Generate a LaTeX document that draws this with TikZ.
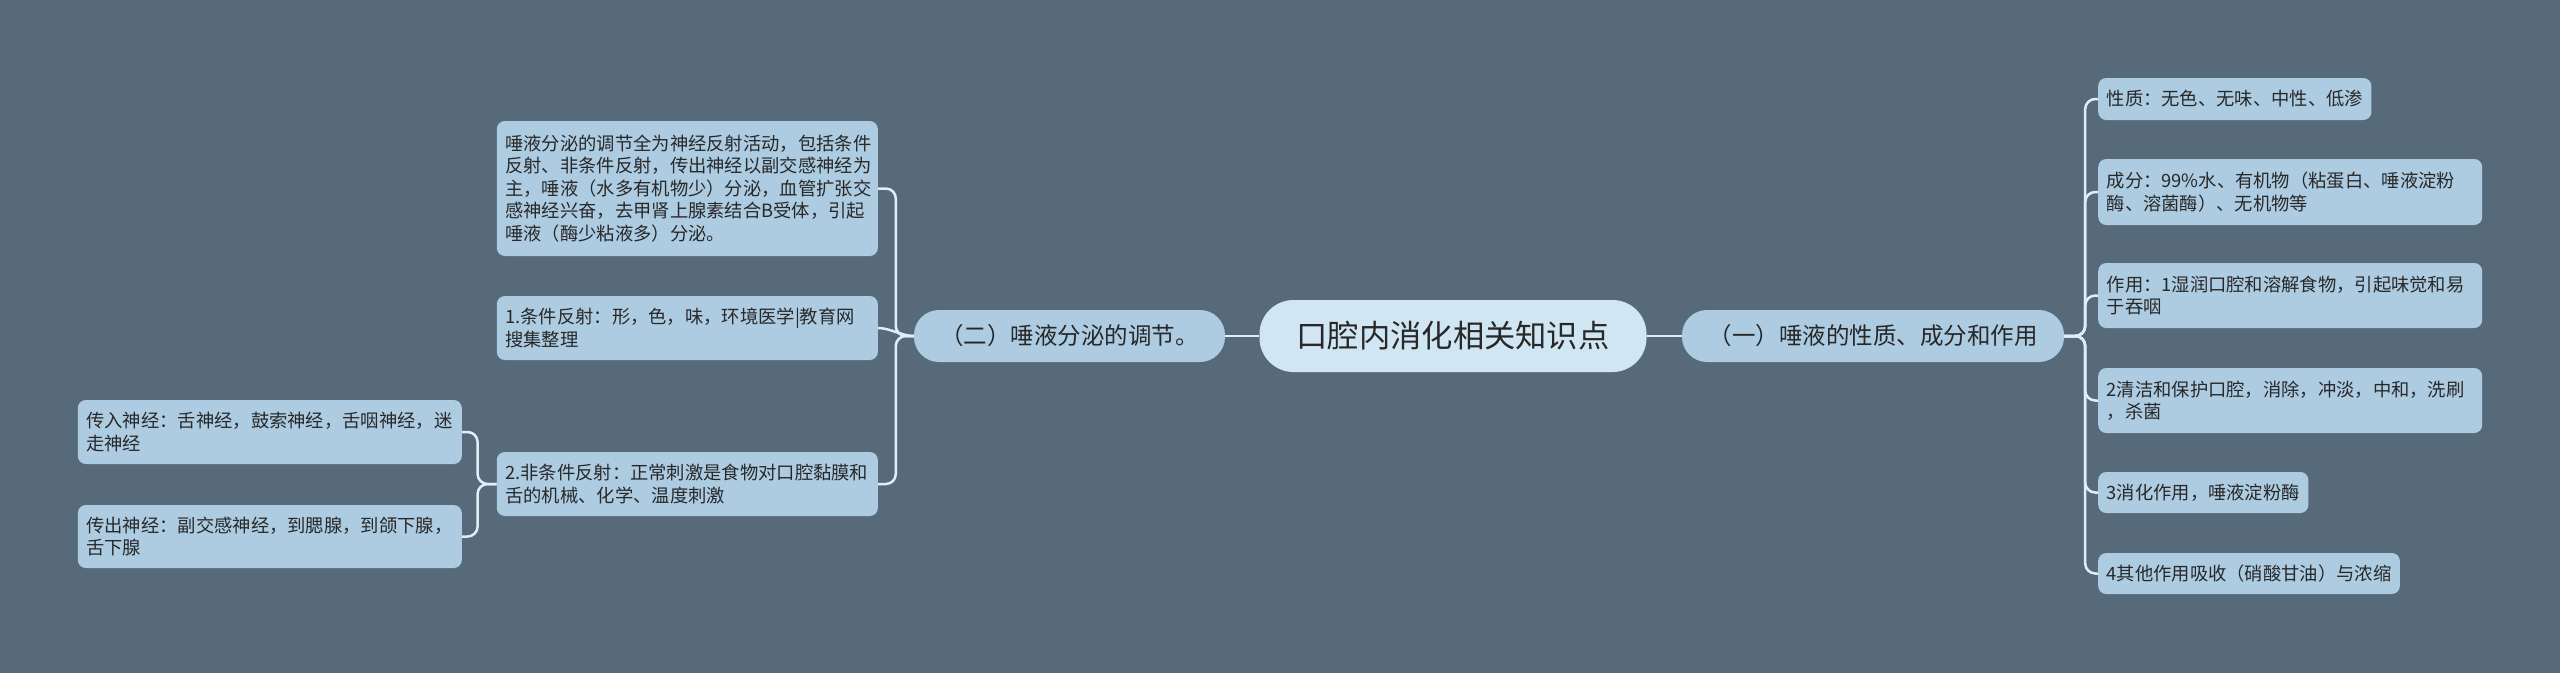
\documentclass[tikz,border=0pt]{standalone}
\usepackage{fontspec}
\setmainfont{Noto Sans CJK SC}
\definecolor{bgc}{RGB}{86,106,121}
\definecolor{leafc}{RGB}{173,204,226}
\definecolor{rootc}{RGB}{208,230,243}
\definecolor{linec}{RGB}{224,239,247}
\definecolor{textc}{RGB}{40,40,40}
\begin{document}
\begin{tikzpicture}[x=1pt,y=-1pt,
  conn/.style={draw=linec, line width=2.5pt, rounded corners=10pt},
  leaf/.style={fill=leafc, rounded corners=8pt, text=textc, font=\fontsize{18.3}{22.5}\selectfont, align=left, inner xsep=8.5pt, inner ysep=0pt},
  mid/.style={fill=leafc, rounded corners=25pt, text=textc, font=\fontsize{23.5}{28}\selectfont, minimum height=52pt, inner sep=0pt},
  rootn/.style={fill=rootc, rounded corners=34pt, text=textc, font=\fontsize{31.3}{37}\selectfont, minimum width=387pt, minimum height=72pt, inner sep=0pt}
]
\useasboundingbox (0,0) rectangle (2560,673);
\fill[bgc] (0,0) rectangle (2560,673);

\node[rootn] (root) at (1453,336) {口腔内消化相关知识点};
\node[mid, minimum width=382pt] (one) at (1873,336) {（一）唾液的性质、成分和作用};
\node[mid, minimum width=311pt] (two) at (1069.5,336) {（二）唾液分泌的调节。};

% right leaves
\node[leaf, anchor=west, minimum height=42pt] (r1) at (2098,99) {性质：无色、无味、中性、低渗};
\node[leaf, anchor=west, minimum height=66pt, text width=367pt] (r2) at (2098,192) {成分：99\%水、有机物（粘蛋白、唾液淀粉\\酶、溶菌酶）、无机物等};
\node[leaf, anchor=west, minimum height=65pt, text width=367pt] (r3) at (2098,295.5) {作用：1湿润口腔和溶解食物，引起味觉和易\\于吞咽};
\node[leaf, anchor=west, minimum height=65pt, text width=367pt] (r4) at (2098,400.5) {2清洁和保护口腔，消除，冲淡，中和，洗刷\\，杀菌};
\node[leaf, anchor=west, minimum height=41pt] (r5) at (2098,492.5) {3消化作用，唾液淀粉酶};
\node[leaf, anchor=west, minimum height=41pt] (r6) at (2098,573.5) {4其他作用吸收（硝酸甘油）与浓缩};

% left leaves
\node[leaf, anchor=east, minimum height=135pt, text width=364pt] (la) at (878,188.5) {唾液分泌的调节全为神经反射活动，包括条件\\反射、非条件反射，传出神经以副交感神经为\\主，唾液（水多有机物少）分泌，血管扩张交\\感神经兴奋，去甲肾上腺素结合B受体，引起\\唾液（酶少粘液多）分泌。};
\node[leaf, anchor=east, minimum height=64pt, text width=364pt] (lb) at (878,328) {1.条件反射：形，色，味，环境医学\textbar 教育网\\搜集整理};
\node[leaf, anchor=east, minimum height=64pt, text width=364pt] (lc) at (878,484) {2.非条件反射：正常刺激是食物对口腔黏膜和\\舌的机械、化学、温度刺激};
\node[leaf, anchor=east, minimum height=64pt, text width=367pt] (ld) at (462,432) {传入神经：舌神经，鼓索神经，舌咽神经，迷\\走神经};
\node[leaf, anchor=east, minimum height=63pt, text width=367pt] (le) at (462,536.5) {传出神经：副交感神经，到腮腺，到颌下腺，\\舌下腺};

% connectors
\draw[conn] (root.east) -- (one.west);
\draw[conn] (root.west) -- (two.east);
\foreach \c in {r1,r2,r3,r4,r5,r6}{
  \draw[conn] (one.east) -- ++(21,0) |- (\c.west);
}
\draw[conn] (two.west) -- ++(-18,0) |- (la.east);
\draw[conn] (two.west) .. controls +(-12,0) and +(12,0) .. (lb.east);
\draw[conn] (two.west) -- ++(-18,0) |- (lc.east);
\draw[conn] (lc.west) -- ++(-19,0) |- (ld.east);
\draw[conn] (lc.west) -- ++(-19,0) |- (le.east);
\end{tikzpicture}
\end{document}
